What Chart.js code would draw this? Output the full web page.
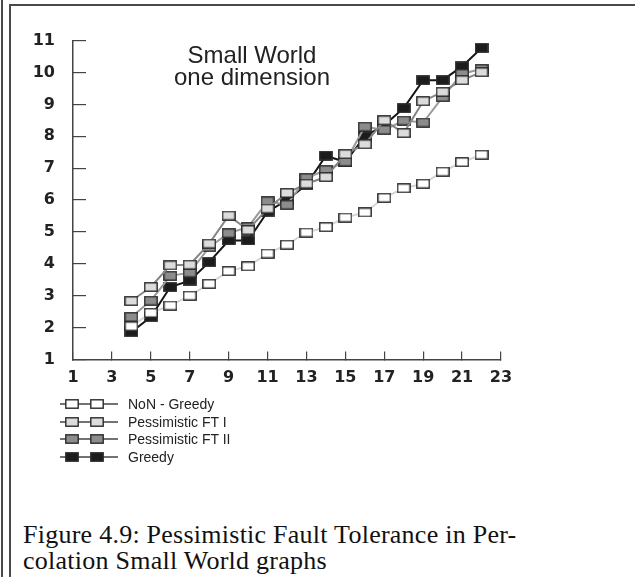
<!DOCTYPE html>
<html><head><meta charset="utf-8">
<script src="https://cdn.jsdelivr.net/npm/chart.js@4.4.0/dist/chart.umd.min.js"></script>
<style>
html,body{margin:0;padding:0;background:#fff;}
body{width:635px;height:577px;position:relative;overflow:hidden;}
#wrap{position:absolute;left:0;top:0;width:635px;height:400px;}
.frame{position:absolute;background:#4a4a4a;}
#title{position:absolute;left:132px;width:240px;top:44px;text-align:center;font-family:"Liberation Sans",Arial,sans-serif;font-size:24px;line-height:22px;color:#222;}
#legend{position:absolute;left:60px;top:395px;font-family:"Liberation Sans",Arial,sans-serif;font-size:14px;color:#222;}
.row{position:relative;height:17.7px;width:300px;}
.row canvas{position:absolute;left:0;top:3px;}
.row span{position:absolute;left:68px;top:0;line-height:18px;white-space:nowrap;}
#caption{position:absolute;left:23px;top:522px;font-family:"Liberation Serif","Times New Roman",serif;font-size:26px;line-height:26px;letter-spacing:0.25px;color:#111;white-space:nowrap;}
</style></head><body>
<div class="frame" style="left:1px;top:0;width:2px;height:577px"></div>
<div class="frame" style="left:9px;top:4px;width:2px;height:573px"></div>
<div class="frame" style="left:9px;top:4px;width:626px;height:2px"></div>
<div id="wrap"><canvas id="c" width="635" height="400"></canvas></div>
<div id="title">Small World<br>one dimension</div>
<div id="legend"></div>
<div id="caption">Figure 4.9: Pessimistic Fault Tolerance in Per-<br>colation Small World graphs</div>
<script>
const seriesNames = ['NoN - Greedy', 'Pessimistic FT I', 'Pessimistic FT II', 'Greedy'];
const xValues = [4,5,6,7,8,9,10,11,12,13,14,15,16,17,18,19,20,21,22];
const nonGreedy = [2.04,2.46,2.69,3.00,3.37,3.77,3.92,4.32,4.60,4.98,5.15,5.45,5.61,6.07,6.37,6.51,6.89,7.19,7.42];
const pessFT1   = [2.83,3.27,3.95,3.97,4.63,5.51,5.06,5.73,6.22,6.51,6.72,7.44,7.75,8.50,8.10,9.10,9.39,9.76,10.01];
const pessFT2   = [2.33,2.84,3.62,3.72,4.52,4.96,5.15,5.96,5.85,6.69,6.94,7.20,8.30,8.20,8.49,8.43,9.23,9.96,10.11];
const greedy    = [1.86,2.33,3.27,3.47,4.05,4.73,4.73,5.63,6.00,6.48,7.39,7.19,8.00,8.35,8.88,9.76,9.76,10.19,10.77];
const xTicks = [1,3,5,7,9,11,13,15,17,19,21,23];
const yTicks = [1,2,3,4,5,6,7,8,9,10,11];

const fills = ['#ffffff','#dcdcdc','#8c8c8c','#1c1c1c'];
const lineColors = ['#d4d4d4','#858585','#9a9a9a','#151515'];

function marker(fill){
  const c=document.createElement('canvas'); c.width=14; c.height=10;
  const g=c.getContext('2d');
  g.fillStyle=fill; g.fillRect(1,1,12,8);
  g.strokeStyle='#2a2a2a'; g.lineWidth=1.4; g.strokeRect(0.8,0.8,12.4,8.4);
  return c;
}
const allSeries=[nonGreedy,pessFT1,pessFT2,greedy];
const datasets = allSeries.map((arr,i)=>({
  label: seriesNames[i],
  data: xValues.map((x,j)=>({x:x,y:arr[j]})),
  borderColor: lineColors[i],
  borderWidth: 2,
  pointStyle: marker(fills[i]),
  pointRadius: 6,
  fill:false,
  tension:0
}));

const tickFont={family:'"DejaVu Sans", "Liberation Sans", sans-serif', size:16, weight:'bold'};
new Chart(document.getElementById('c'),{
  type:'line',
  data:{datasets:datasets},
  options:{
    responsive:false, animation:false, devicePixelRatio:1,
    layout:{padding:{left:0,top:34,right:134,bottom:0}},
    plugins:{legend:{display:false},tooltip:{enabled:false},title:{display:false}},
    scales:{
      x:{type:'linear',min:1,max:23,
        afterFit:s=>{s.height=35;},
        afterBuildTicks:s=>{s.ticks=xTicks.map(v=>({value:v}));},
        grid:{drawOnChartArea:false,tickLength:-8,color:'#444',lineWidth:1.2},
        border:{color:'#444',width:1.5},
        ticks:{padding:17,color:'#222',font:tickFont,maxRotation:0,autoSkip:false}},
      y:{type:'linear',min:1,max:11,
        afterFit:s=>{s.width=73;},
        afterBuildTicks:s=>{s.ticks=yTicks.map(v=>({value:v}));},
        grid:{drawOnChartArea:false,tickLength:-13,color:'#444',lineWidth:1.2},
        border:{color:'#444',width:1.5},
        ticks:{padding:31,color:'#222',font:tickFont,autoSkip:false}}
    }
  }
});

// legend
const leg=document.getElementById('legend');
seriesNames.forEach((name,i)=>{
  const row=document.createElement('div'); row.className='row';
  const c=document.createElement('canvas'); c.width=60; c.height=12;
  const g=c.getContext('2d');
  g.strokeStyle='#444'; g.lineWidth=1.5; g.beginPath(); g.moveTo(0,6); g.lineTo(58,6); g.stroke();
  const m=marker(fills[i]);
  g.drawImage(m,5,1); g.drawImage(m,30,1);
  const s=document.createElement('span'); s.textContent=name;
  row.appendChild(c); row.appendChild(s); leg.appendChild(row);
});
</script>
</body></html>
